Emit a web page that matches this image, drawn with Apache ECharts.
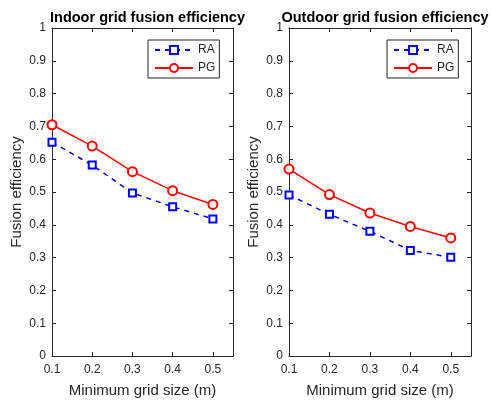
<!DOCTYPE html>
<html><head><meta charset="utf-8">
<script src="https://cdn.jsdelivr.net/npm/echarts@6/dist/echarts.min.js"></script>
<style>html,body{margin:0;padding:0;background:#fff}#c{width:491px;height:403px}</style>
</head><body><div id="c"></div>
<script>
const gridSizes = [0.1, 0.2, 0.3, 0.4, 0.5];
const indoorRA = [0.652, 0.582, 0.497, 0.455, 0.418];
const indoorPG = [0.705, 0.640, 0.562, 0.504, 0.462];
const outdoorRA = [0.491, 0.432, 0.380, 0.322, 0.301];
const outdoorPG = [0.570, 0.492, 0.436, 0.395, 0.360];
const titles = ['Indoor grid fusion efficiency', 'Outdoor grid fusion efficiency'];
const seriesNames = ['RA', 'PG'];
const xName = 'Minimum grid size (m)';
const yName = 'Fusion efficiency';

const FONT = 'Liberation Sans, Arial, sans-serif';
const TXT = '#262626';
const grids = [
  {left: 52, top: 28, width: 181, height: 330},
  {left: 289, top: 28, width: 182, height: 330}
];
const pair = a => gridSizes.map((x, i) => [x, a[i]]);
const xAxes = [], yAxes = [], series = [], legends = [], titleArr = [];
const datasets = [[indoorRA, indoorPG], [outdoorRA, outdoorPG]];
grids.forEach((g, gi) => {
  const base = {gridIndex: gi, type: 'value', min: 0.1, max: 0.55, interval: 0.1,
    axisLine: {show: true, onZero: false, lineStyle: {color: TXT, width: 1}},
    axisTick: {show: true, inside: true, length: 4, lineStyle: {color: TXT}},
    splitLine: {show: false}};
  xAxes.push(Object.assign({}, base, {position: 'bottom',
    axisLabel: {color: TXT, fontFamily: FONT, fontSize: 12, margin: 8, showMaxLabel: false,
      formatter: v => v.toFixed(1)},
    name: xName, nameLocation: 'middle', nameGap: 27,
    nameTextStyle: {color: TXT, fontFamily: FONT, fontSize: 15}}));
  xAxes.push(Object.assign({}, base, {position: 'top', axisLabel: {show: false}}));
  const ybase = {gridIndex: gi, type: 'value', min: 0, max: 1, interval: 0.1,
    axisLine: {show: true, onZero: false, lineStyle: {color: TXT, width: 1}},
    axisTick: {show: true, inside: true, length: 4, lineStyle: {color: TXT}},
    splitLine: {show: false}};
  yAxes.push(Object.assign({}, ybase, {position: 'left',
    axisLabel: {color: TXT, fontFamily: FONT, fontSize: 12, margin: 6,
      formatter: v => (Math.round(v * 10) / 10).toString()},
    name: yName, nameLocation: 'middle', nameGap: 28,
    nameTextStyle: {color: TXT, fontFamily: FONT, fontSize: 15}}));
  yAxes.push(Object.assign({}, ybase, {position: 'right', axisLabel: {show: false}}));
  const [ra, pg] = datasets[gi];
  series.push({name: seriesNames[0], type: 'line', xAxisIndex: gi * 2, yAxisIndex: gi * 2,
    data: pair(ra), symbol: 'emptyRect', symbolSize: 7, showSymbol: true,
    lineStyle: {color: '#0000ff', width: 1.5, type: [5, 5]},
    itemStyle: {color: '#0000ff', borderWidth: 1.5}, animation: false});
  series.push({name: seriesNames[1], type: 'line', xAxisIndex: gi * 2, yAxisIndex: gi * 2,
    data: pair(pg), symbol: 'emptyCircle', symbolSize: 9,
    lineStyle: {color: '#ff0000', width: 1.5},
    itemStyle: {color: '#ff0000', borderWidth: 1.5}, animation: false});
  titleArr.push({text: titles[gi], left: g.left + g.width / 2, top: 5, textAlign: 'center',
    textStyle: {fontFamily: FONT, fontSize: 14.5, fontWeight: 'bold', color: '#000'}});
});
legends.push({data: seriesNames, orient: 'vertical', left: 148, top: 40, width: 72,
  itemWidth: 38, itemHeight: 10, itemGap: 6, padding: [4, 4, 4, 6],
  borderColor: '#262626', borderWidth: 1, backgroundColor: '#fff',
  textStyle: {fontFamily: FONT, fontSize: 12, color: TXT}, selectedMode: false});
legends.push(Object.assign({}, legends[0], {left: 387}));

const chart = echarts.init(document.getElementById('c'), null, {renderer: 'canvas'});
chart.setOption({animation: false, backgroundColor: '#fff', title: titleArr,
  grid: grids, xAxis: xAxes, yAxis: yAxes, series: series, legend: legends});
</script></body></html>
